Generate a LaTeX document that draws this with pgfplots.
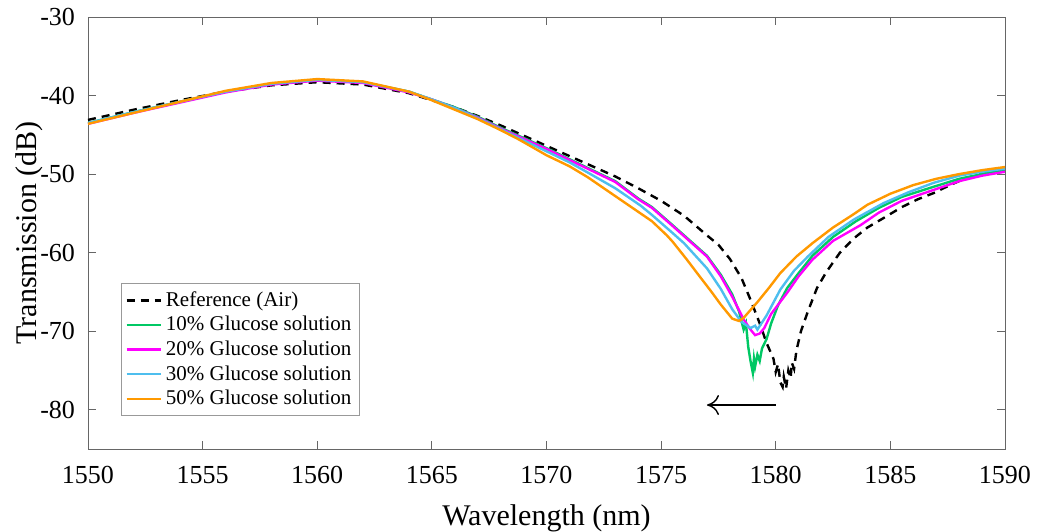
\documentclass[border=0pt]{standalone}
\usepackage{fontspec}
\setmainfont{Liberation Serif}
\usepackage{pgfplots}
\pgfplotsset{compat=1.18}
\usetikzlibrary{arrows.meta}
\definecolor{cgreen}{RGB}{0,200,100}
\definecolor{cmag}{RGB}{255,0,255}
\definecolor{ccyan}{RGB}{77,190,238}
\definecolor{corange}{RGB}{255,153,0}
\begin{document}
\begin{tikzpicture}
\useasboundingbox (-44pt,-41pt) rectangle (476pt,224.5pt);
\begin{axis}[
  scale only axis,
  width=458.5pt, height=216pt,
  xmin=1550, xmax=1590, ymin=-85, ymax=-30,
  xtick={1550,1555,...,1590}, ytick={-80,-70,...,-30},
  /pgf/number format/assume math mode=true,
  /pgf/number format/1000 sep={},
  tick align=inside, tick pos=both,
  major tick length=4pt,
  axis line style={gray!80!black},
  every tick/.style={gray!80!black},
  tick label style={font=\fontsize{13}{15}\selectfont},
  xticklabel style={yshift=-5pt},
  yticklabel style={xshift=-3pt},
  label style={font=\fontsize{15}{17}\selectfont},
  xlabel={Wavelength (nm)}, ylabel={Transmission (dB)},
  xlabel style={yshift=-3.5pt},
  ylabel style={yshift=-8pt},
  legend style={at={(0.036,0.384)}, anchor=north west, draw=gray!80,
    font=\fontsize{10.5}{12}\selectfont, row sep=-0.5pt, inner sep=2pt},
  legend cell align=left,
  legend image post style={line width=1.2pt},
  every axis plot/.append style={line width=1.2pt},
]
% Reference (Air)
\addplot[black, dash pattern=on 4pt off 3pt, line width=1.2pt] coordinates {
(1550,-43.1) (1552,-41.8) (1554,-40.6) (1556,-39.5) (1558,-38.7) (1560,-38.3)
(1562,-38.6) (1564,-39.7) (1566,-41.5) (1567,-42.6) (1568,-43.8) (1569,-45.1)
(1570,-46.4) (1571,-47.7) (1572,-49.0) (1573,-50.3) (1574,-51.8) (1575,-53.4)
(1576,-55.3) (1577,-57.8) (1577.5,-59.0) (1578,-60.8) (1578.5,-63.2) (1578.9,-66.0)
(1579.3,-69.0) (1579.6,-71.5) (1579.9,-73.5) (1580.0,-75.2) (1580.1,-74.2)
(1580.2,-76.5) (1580.3,-77.1) (1580.35,-75.8) (1580.45,-77.3) (1580.55,-75.0)
(1580.65,-76.0) (1580.7,-74.0) (1580.8,-74.8) (1580.9,-72.5) (1581.1,-70.0)
(1581.4,-67.5) (1581.8,-64.5) (1582.2,-62.5) (1582.8,-60.0) (1583.4,-58.2)
(1584,-56.8) (1584.7,-55.6) (1585.5,-54.2) (1586.2,-53.2) (1586.9,-52.4)
(1587.6,-51.4) (1588.3,-50.5) (1589,-50.0) (1590,-49.6)
};
% 10%
\addplot[cgreen] coordinates {
(1550,-43.5) (1552,-42.1) (1554,-40.8) (1556,-39.5) (1558,-38.5) (1560,-38.0)
(1562,-38.3) (1564,-39.5) (1565,-40.5) (1566,-41.5) (1567,-42.7) (1568,-44.1)
(1569,-45.4) (1570,-46.7) (1571,-48.1) (1572,-49.5) (1573,-50.9) (1574,-53.1)
(1574.6,-54.2) (1575.5,-56.5) (1576,-57.8) (1577,-60.4) (1577.6,-62.8)
(1578.1,-65.3) (1578.4,-67.5) (1578.6,-69.8) (1578.7,-69.0) (1578.8,-72.0)
(1578.9,-73.8) (1579.0,-75.3) (1579.05,-73.5) (1579.1,-74.5) (1579.2,-73.0)
(1579.3,-73.8) (1579.4,-72.2) (1579.6,-71.0) (1579.8,-69.0) (1580.1,-66.7)
(1580.5,-64.5) (1581,-62.6) (1581.6,-60.4) (1582.5,-58.0) (1583.5,-56.0)
(1584.5,-54.3) (1585.5,-52.9) (1586.9,-51.6) (1588,-50.6) (1589,-50.0) (1590,-49.5)
};
% 20%
\addplot[cmag] coordinates {
(1550,-43.6) (1552,-42.2) (1554,-40.9) (1556,-39.6) (1558,-38.6) (1560,-38.1)
(1562,-38.4) (1564,-39.6) (1565,-40.5) (1566,-41.6) (1567,-42.8) (1568,-44.2)
(1569,-45.5) (1570,-46.8) (1571,-48.2) (1572,-49.6) (1573,-51.0) (1574,-53.2)
(1574.6,-54.3) (1575.5,-56.6) (1576,-57.9) (1577,-60.5) (1577.6,-63.0)
(1578.1,-65.6) (1578.6,-68.5) (1578.9,-69.8) (1579.1,-70.5) (1579.3,-70.3)
(1579.5,-69.6) (1579.8,-67.8) (1580.5,-65.1) (1581,-63.0) (1581.6,-60.9)
(1582.5,-58.5) (1583.7,-56.5) (1584.5,-54.9) (1585.5,-53.4) (1586.9,-52.0)
(1588,-50.9) (1589,-50.2) (1590,-49.7)
};
% 30%
\addplot[ccyan] coordinates {
(1550,-43.5) (1552,-42.1) (1554,-40.8) (1556,-39.5) (1558,-38.5) (1560,-38.0)
(1562,-38.3) (1564,-39.5) (1565,-40.5) (1566,-41.6) (1567,-42.9) (1568,-44.3)
(1569,-45.7) (1570,-47.1) (1571,-48.5) (1571.8,-49.8) (1573,-51.8) (1574.1,-54.0)
(1574.6,-55.2) (1575.5,-57.5) (1576,-58.8) (1577,-62.0) (1577.6,-64.6)
(1578.1,-67.2) (1578.5,-68.8) (1578.9,-69.6) (1579.1,-69.3) (1579.2,-69.8)
(1579.4,-68.9) (1579.6,-68.0) (1580.2,-64.7) (1580.8,-62.3) (1581.4,-60.5)
(1582.3,-58.0) (1583.4,-55.8) (1584.7,-53.7) (1585.8,-52.3) (1586.9,-51.1)
(1588,-50.2) (1589,-49.7) (1590,-49.3)
};
% 50%
\addplot[corange] coordinates {
(1550,-43.6) (1552,-42.2) (1554,-40.8) (1556,-39.4) (1558,-38.4) (1560,-37.9)
(1562,-38.2) (1564,-39.5) (1565,-40.6) (1566,-41.8) (1567,-43.0) (1568,-44.4)
(1568.8,-45.6) (1570,-47.6) (1571,-49.0) (1571.8,-50.4) (1572.3,-51.4)
(1573,-52.8) (1573.8,-54.4) (1574.6,-56.0) (1575.25,-57.8) (1575.5,-58.6)
(1576.1,-60.8) (1576.7,-63.1) (1577.2,-65.0) (1577.6,-66.6) (1578.1,-68.4)
(1578.4,-68.7) (1578.6,-68.3) (1578.9,-67.3) (1579.2,-66.3) (1579.7,-64.5)
(1580.2,-62.6) (1580.9,-60.5) (1581.6,-58.8) (1582.5,-56.8) (1583.4,-55.1)
(1584,-53.9) (1585,-52.5) (1586,-51.4) (1587,-50.6) (1588,-50.0) (1589,-49.5) (1590,-49.1)
};
\legend{Reference (Air), 10\% Glucose solution, 20\% Glucose solution,
  30\% Glucose solution, 50\% Glucose solution}
\draw[-{To[length=6pt,width=10pt]}, line width=0.7pt] (axis cs:1580,-79.4) -- (axis cs:1577,-79.4);
\end{axis}
\end{tikzpicture}
\end{document}
